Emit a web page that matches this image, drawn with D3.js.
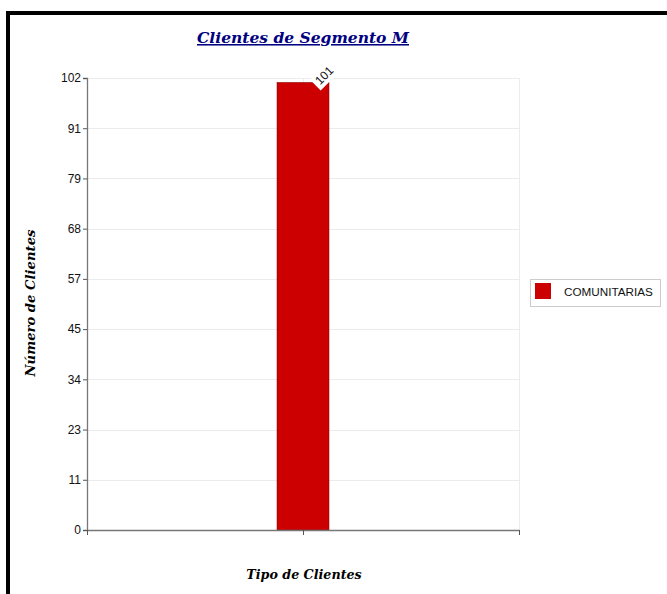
<!DOCTYPE html>
<html>
<head>
<meta charset="utf-8">
<script src="https://cdn.jsdelivr.net/npm/d3@7"></script>
<style>
  html, body { margin: 0; padding: 0; background: #fff; }
  svg { display: block; }
</style>
</head>
<body>
<svg id="chart" width="667" height="594"></svg>
<script>
// Chart data
const categories = ["COMUNITARIAS"];
const values = [101];
const yMax = 102;
const tickCount = 10; // evenly spaced ticks from 0 to yMax
const titleText = "Clientes de Segmento M";
const yTitle = "Número de Clientes";
const xTitle = "Tipo de Clientes";
const barColor = "#cc0000";

const svg = d3.select("#chart");

// Page frame (top and left edges)
svg.append("line").attr("x1", 6).attr("x2", 667).attr("y1", 13).attr("y2", 13)
  .attr("stroke", "#000").attr("stroke-width", 4);
svg.append("line").attr("x1", 8).attr("x2", 8).attr("y1", 11).attr("y2", 594)
  .attr("stroke", "#000").attr("stroke-width", 4);

const plot = { left: 87, right: 519, top: 78, bottom: 530 };

const y = d3.scaleLinear().domain([0, yMax]).range([plot.bottom, plot.top]);
const x = d3.scaleBand().domain(categories).range([plot.left, plot.right]);
const tickVals = d3.range(tickCount).map(i => yMax * i / (tickCount - 1));

// Horizontal gridlines
svg.append("g").selectAll("line").data(tickVals.slice(1)).join("line")
  .attr("x1", plot.left).attr("x2", plot.right)
  .attr("y1", d => Math.round(y(d)) + 0.5).attr("y2", d => Math.round(y(d)) + 0.5)
  .attr("stroke", "#ececec").attr("stroke-width", 1);

// Vertical gridlines at category centres and the right edge
svg.append("g").selectAll("line")
  .data(categories.map(c => x(c) + x.bandwidth() / 2).concat([plot.right]))
  .join("line")
  .attr("x1", d => Math.round(d) + 0.5).attr("x2", d => Math.round(d) + 0.5)
  .attr("y1", plot.top).attr("y2", plot.bottom)
  .attr("stroke", "#ececec").attr("stroke-width", 1);

// Bars
const barW = 52;
svg.append("g").selectAll("rect").data(values).join("rect")
  .attr("x", (d, i) => x(categories[i]) + x.bandwidth() / 2 - barW / 2)
  .attr("y", d => y(d))
  .attr("width", barW)
  .attr("height", d => plot.bottom - y(d))
  .attr("fill", barColor)
  .attr("stroke", "#7a0000").attr("stroke-width", 0.5);

// Value labels, rotated, on a white backing
const lbl = svg.append("g").selectAll("g").data(values).join("g")
  .attr("transform", (d, i) => {
    const cx = x(categories[i]) + x.bandwidth() / 2 + barW / 2 - 9;
    return `translate(${cx},${y(d) + 3}) rotate(-45)`;
  });
lbl.append("rect").attr("x", -3).attr("y", -11).attr("width", 25).attr("height", 15)
  .attr("fill", "#fff");
lbl.append("text").text(d => d)
  .attr("x", 0).attr("y", 0)
  .attr("font-family", "Liberation Sans, Arial, sans-serif").attr("font-size", 12)
  .attr("fill", "#111");

// Y axis
const yAxis = d3.axisLeft(y).tickValues(tickVals).tickFormat(d => Math.round(d))
  .tickSize(4).tickPadding(2);
const gy = svg.append("g").attr("transform", `translate(${plot.left},0)`).call(yAxis);
gy.select(".domain").attr("stroke", "#777").attr("stroke-width", 1.3);
gy.selectAll(".tick line").attr("stroke", "#555");
gy.selectAll(".tick text").attr("font-family", "Liberation Sans, Arial, sans-serif")
  .attr("font-size", 12).attr("fill", "#111");

// X axis: ticks at band edges and centres
const xTicks = [plot.left].concat(categories.map(c => x(c) + x.bandwidth() / 2), [plot.right]);
svg.append("line").attr("x1", plot.left).attr("x2", plot.right + 0.5)
  .attr("y1", plot.bottom + 0.5).attr("y2", plot.bottom + 0.5)
  .attr("stroke", "#777").attr("stroke-width", 1.3);
svg.append("g").selectAll("line").data(xTicks).join("line")
  .attr("x1", d => Math.round(d) + 0.5).attr("x2", d => Math.round(d) + 0.5)
  .attr("y1", plot.bottom).attr("y2", plot.bottom + 5)
  .attr("stroke", "#555");

// Title
svg.append("text").text(titleText)
  .attr("x", 303).attr("y", 43).attr("text-anchor", "middle")
  .attr("font-family", "DejaVu Serif, serif").attr("font-style", "italic")
  .attr("font-weight", "bold").attr("font-size", 15.5)
  .attr("fill", "#000080").attr("text-decoration", "underline");

// Axis titles
svg.append("text").text(yTitle)
  .attr("transform", "translate(35,303) rotate(-90)").attr("text-anchor", "middle")
  .attr("font-family", "DejaVu Serif, serif").attr("font-style", "italic")
  .attr("font-weight", "bold").attr("font-size", 13.2).attr("fill", "#000");
svg.append("text").text(xTitle)
  .attr("x", 304).attr("y", 579).attr("text-anchor", "middle")
  .attr("font-family", "DejaVu Serif, serif").attr("font-style", "italic")
  .attr("font-weight", "bold").attr("font-size", 12.7).attr("fill", "#000");

// Legend
const legend = svg.append("g").attr("transform", "translate(530,279)");
legend.append("rect").attr("x", 0.5).attr("y", 0.5).attr("width", 130).attr("height", 27)
  .attr("fill", "#fff").attr("stroke", "#ccc");
legend.selectAll("g").data(categories).join("g").each(function(d) {
  const g = d3.select(this);
  g.append("rect").attr("x", 5).attr("y", 4).attr("width", 16).attr("height", 16)
    .attr("fill", barColor);
  g.append("text").text(d).attr("x", 34).attr("y", 17)
    .attr("font-family", "Liberation Sans, Arial, sans-serif").attr("font-size", 11.7)
    .attr("fill", "#111");
});
</script>
</body>
</html>
